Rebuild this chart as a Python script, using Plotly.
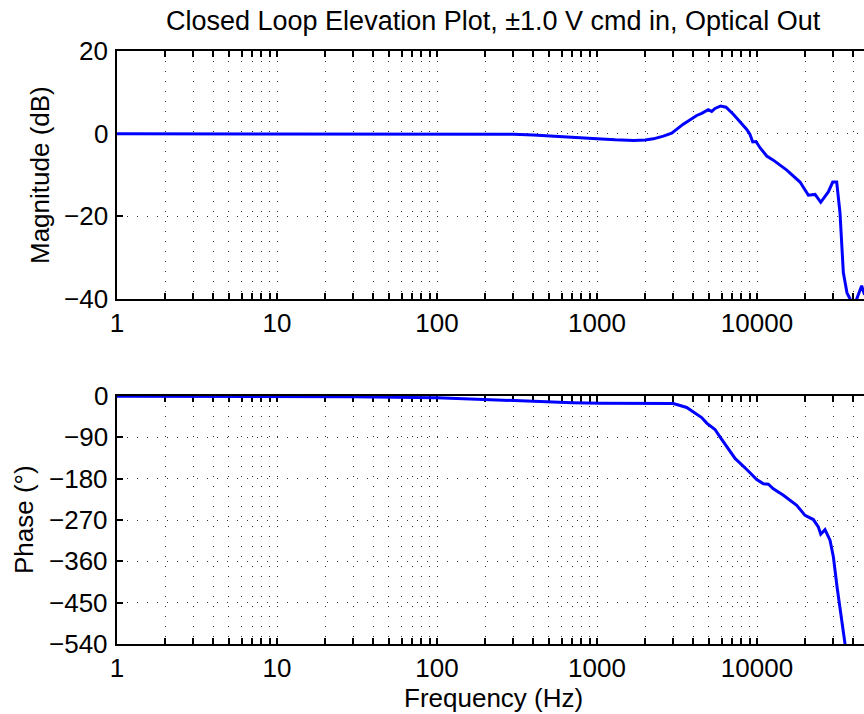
import plotly.graph_objects as go

# Closed-loop elevation response: magnitude (dB) and phase (deg) vs frequency (Hz)
mag_freq = [1, 3, 10, 30, 100, 200, 300, 400, 600, 800, 1000, 1300, 1700, 2000,
            2250, 2600, 2930, 3460, 4200, 4510, 4960, 5210, 5470, 5930, 6400,
            7110, 8630, 9040, 9400, 9860, 10440, 11500, 12650, 15350, 18570,
            20950, 23070, 25020, 27900, 29740, 31480, 33010, 34640, 36500,
            38560, 40500, 42000, 43500, 45100, 47000]
mag_db = [0, 0, 0, 0, 0, -0.05, -0.15, -0.3, -0.65, -1.0, -1.25, -1.5, -1.65, -1.55,
          -1.25, -0.6, 0.1, 2.3, 4.4, 4.9, 5.8, 5.4, 6.1, 6.7, 6.4,
          4.7, 1.0, -0.2, -2.0, -1.9, -3.4, -5.4, -6.4, -8.8, -11.7,
          -14.9, -14.7, -16.6, -14.1, -11.7, -11.7, -19.1, -33.6, -38.5,
          -40.5, -42.0, -40.0, -38.5, -36.8, -39.0]

ph_freq = [1, 10, 30, 100, 200, 300, 500, 700, 1044, 1500, 2000, 2476, 3000,
           3636, 4100, 4510, 4850, 5465, 5870, 6470, 7290, 8630, 9960, 10960,
           11780, 12650, 14620, 17710, 19960, 22500, 24170, 25020, 26610,
           28600, 30010, 31650, 33010, 35450, 36500]
ph_deg = [-0.3, -0.5, -1.5, -4, -8, -10.5, -13, -14.5, -16, -16, -15.5, -15.2, -16.5,
          -25, -38, -47, -59, -73, -89, -111, -136, -160, -182, -191,
          -192, -202, -216, -238, -260, -269, -285, -301, -291,
          -314, -350, -416, -459, -539, -570]

x_ticks = [1, 10, 100, 1000, 10000]
x_tick_text = ["1", "10", "100", "1000", "10000"]
mag_ticks = [20, 0, -20, -40]
ph_ticks = [0, -90, -180, -270, -360, -450, -540]

title_text = "Closed Loop Elevation Plot, \u00b11.0 V cmd in, Optical Out"

FONT = "Liberation Sans, Arial, Helvetica, sans-serif"
FS = 26
minor_vals = [k * 10 ** d for d in range(0, 5) for k in range(2, 10)]
GRID = dict(gridcolor="#333", gridwidth=1, griddash="1px,9px")

fig = go.Figure()
fig.add_trace(go.Scatter(x=mag_freq, y=mag_db, mode="lines",
                         line=dict(color="#0000ff", width=3),
                         xaxis="x", yaxis="y", showlegend=False))
fig.add_trace(go.Scatter(x=ph_freq, y=ph_deg, mode="lines",
                         line=dict(color="#0000ff", width=3),
                         xaxis="x2", yaxis="y2", showlegend=False))

W, H = 864, 714
ML, MR, MT, MB = 117, 0, 51, 70
PW = W - ML - MR
PH = H - MT - MB
DECADE = 160.0
x_range = [0, PW / DECADE]


def xaxis_cfg(anchor):
    return dict(
        type="log", range=x_range, anchor=anchor,
        tickmode="array", tickvals=x_ticks, ticktext=x_tick_text,
        ticks="inside", ticklen=6, tickwidth=1.5, tickcolor="black",
        showline=True, linecolor="black", linewidth=2, mirror="allticks",
        showgrid=True, **GRID,
        minor=dict(tickvals=minor_vals, ticks="inside", ticklen=6,
                   tickwidth=1.5, tickcolor="black", showgrid=True, **GRID),
        zeroline=False, layer="below traces",
        tickfont=dict(family=FONT, size=FS, color="black"),
        ticklabelstandoff=0,
    )


def yaxis_cfg(domain, rng, ticks, anchor):
    # tick labels are placed as annotations (closer to the axis line)
    return dict(
        domain=domain, range=rng, anchor=anchor,
        tickmode="array", tickvals=ticks, showticklabels=False,
        ticks="inside", ticklen=6, tickwidth=1.5, tickcolor="black",
        showline=True, linecolor="black", linewidth=2,
        showgrid=True, **GRID, zeroline=False, layer="below traces",
    )


top_lo = (H - MB - 299) / PH
bot_hi = (H - MB - 396) / PH

fig.update_layout(
    width=W, height=H,
    margin=dict(l=ML, r=MR, t=MT, b=MB, pad=0),
    paper_bgcolor="white", plot_bgcolor="white",
    font=dict(family=FONT, size=FS, color="black"),
    xaxis=xaxis_cfg("y"),
    yaxis=yaxis_cfg([top_lo, 1], [-40, 20], mag_ticks, "x"),
    xaxis2=xaxis_cfg("y2"),
    yaxis2=yaxis_cfg([0, bot_hi], [-540, 0], ph_ticks, "x2"),
)


def px_x(x):
    return (x - ML) / PW


def px_y(y):
    return (H - MB - y) / PH


def fmt(v):
    return str(v).replace("-", "\u2212")


# y tick labels, right-aligned just left of the axis line
for v in mag_ticks:
    fig.add_annotation(xref="paper", yref="y", x=px_x(110), y=v, text=fmt(v),
                       showarrow=False, xanchor="right", yanchor="middle",
                       font=dict(family=FONT, size=FS, color="black"))
for v in ph_ticks:
    fig.add_annotation(xref="paper", yref="y2", x=px_x(110), y=v, text=fmt(v),
                       showarrow=False, xanchor="right", yanchor="middle",
                       font=dict(family=FONT, size=FS, color="black"))

annos = [
    dict(text=title_text, x=px_x(494), y=px_y(21), size=27),
    dict(text="Frequency (Hz)", x=px_x(493), y=px_y(698), size=FS),
]
for a in annos:
    fig.add_annotation(xref="paper", yref="paper", showarrow=False,
                       xanchor="center", yanchor="middle", text=a["text"],
                       x=a["x"], y=a["y"],
                       font=dict(family=FONT, size=a["size"], color="black"))

for text, x, y in [("Magnitude (dB)", 40, 175), ("Phase (\u00b0)", 24, 520)]:
    fig.add_annotation(xref="paper", yref="paper", showarrow=False,
                       xanchor="center", yanchor="middle", textangle=-90,
                       text=text, x=px_x(x), y=px_y(y),
                       font=dict(family=FONT, size=FS, color="black"))

fig.write_html("out.html")
